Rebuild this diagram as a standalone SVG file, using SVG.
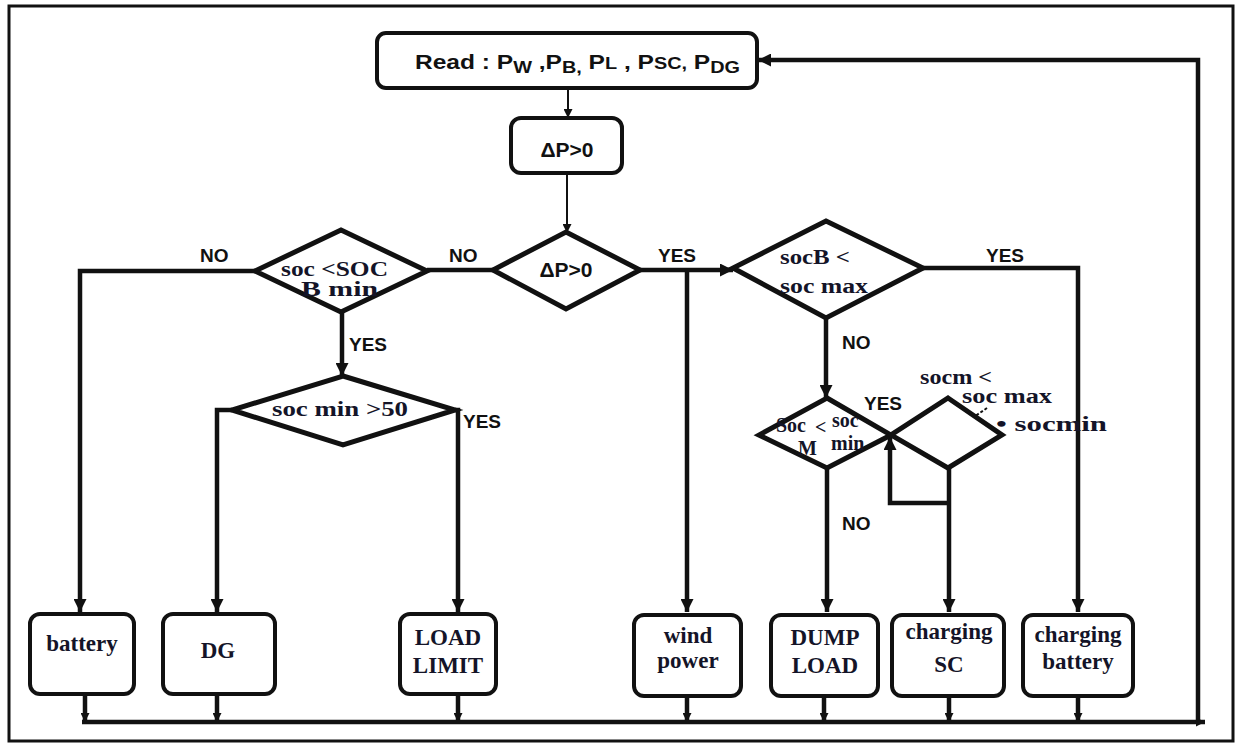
<svg xmlns="http://www.w3.org/2000/svg" width="1239" height="748" viewBox="0 0 1239 748">
<style>
.frame{fill:none;stroke:#111;stroke-width:3}
.box{fill:#fff;stroke:#111;stroke-width:4}
.dia{fill:#fff;stroke:#111;stroke-width:5;stroke-linejoin:miter}
.thin{fill:none;stroke:#111;stroke-width:2}
.con{fill:none;stroke:#111;stroke-width:4.5}
.lbl{font-family:"Liberation Sans",Arial,sans-serif;font-weight:bold;font-size:19px;fill:#111}
.bt{font-family:"Liberation Serif","Times New Roman",serif;font-weight:bold;font-size:23px;fill:#141428;text-anchor:middle}
.dt{font-family:"Liberation Serif","Times New Roman",serif;font-weight:bold;font-size:20px;fill:#141428}
.st{font-family:"Liberation Sans",Arial,sans-serif;font-weight:bold;font-size:21px;fill:#111}
</style>
<defs>
<marker id="ah" viewBox="0 0 12 12" refX="12" refY="6" markerWidth="13" markerHeight="13" markerUnits="userSpaceOnUse" orient="auto">
<path d="M0,0 L12,6 L0,12 z" fill="#111"/>
</marker>
<marker id="ahs" viewBox="0 0 10 10" refX="10" refY="5" markerWidth="9" markerHeight="9" markerUnits="userSpaceOnUse" orient="auto">
<path d="M0,0 L10,5 L0,10 z" fill="#111"/>
</marker>
<marker id="aht" viewBox="0 0 10 10" refX="10" refY="5" markerWidth="8" markerHeight="8" markerUnits="userSpaceOnUse" orient="auto">
<path d="M0,1 L10,5 L0,9" fill="none" stroke="#111" stroke-width="1.5"/>
</marker>
</defs>
<rect width="1239" height="748" fill="#fff"/>
<rect class="frame" x="9" y="6" width="1224" height="735"/>

<g id="connectors">
<path class="thin" d="M568,88 V118" marker-end="url(#ahs)"/>
<path class="thin" d="M567,173 V233" marker-end="url(#ahs)"/>
<path class="con" d="M493,270 H427"/>
<path class="con" d="M255,271 H80 V612" marker-end="url(#ah)"/>
<path class="con" d="M342,312 V376" marker-end="url(#ah)"/>
<path class="con" d="M232,410 H217 V612" marker-end="url(#ah)"/>
<path class="con" d="M455,410 H458 V612" marker-end="url(#ah)"/>
<path class="con" d="M640,270 H733" marker-end="url(#ah)"/>
<path class="con" d="M687,270 V612" marker-end="url(#ah)"/>
<path class="con" d="M923,268 H1078 V612" marker-end="url(#ah)"/>
<path class="con" d="M826,318 V398" marker-end="url(#ah)"/>
<path class="con" d="M827,468 V612" marker-end="url(#ah)"/>
<path class="con" d="M949,468 V612" marker-end="url(#ah)"/>
<path class="con" d="M949,503 H890 V437" marker-end="url(#ah)"/>
<path class="thin" d="M987,408 L955,430" stroke-width="1.2" stroke-dasharray="3,2" marker-end="url(#aht)"/>
<path class="con" d="M85,695 V722" marker-end="url(#ahs)"/>
<path class="con" d="M217,695 V722" marker-end="url(#ahs)"/>
<path class="con" d="M458,695 V722" marker-end="url(#ahs)"/>
<path class="con" d="M687,697 V722" marker-end="url(#ahs)"/>
<path class="con" d="M824,697 V722" marker-end="url(#ahs)"/>
<path class="con" d="M949,697 V722" marker-end="url(#ahs)"/>
<path class="con" d="M1078,697 V722" marker-end="url(#ahs)"/>
<path class="con" d="M82,722 H1205" marker-end="url(#ahs)"/>
<path class="con" d="M1198,722 V60 H758" marker-end="url(#ah)"/>
<text class="lbl" x="200" y="262">NO</text>
<text class="lbl" x="449" y="262">NO</text>
<text class="lbl" x="349" y="351">YES</text>
<text class="lbl" x="463" y="428">YES</text>
<text class="lbl" x="658" y="262">YES</text>
<text class="lbl" x="986" y="262">YES</text>
<text class="lbl" x="842" y="349">NO</text>
<text class="lbl" x="864" y="410">YES</text>
<text class="lbl" x="842" y="530">NO</text>
</g>

<g id="read">
<rect class="box" x="377" y="33" width="380" height="55" rx="9" stroke-width="3"/>
<text class="st" x="415" y="69" font-size="22" textLength="325" lengthAdjust="spacingAndGlyphs">Read : P<tspan font-size="17" dy="4">W</tspan><tspan dy="-4"> ,P</tspan><tspan font-size="17" dy="4">B,</tspan><tspan dy="-4">  P</tspan><tspan font-size="17">L</tspan><tspan> , P</tspan><tspan font-size="17">SC,</tspan><tspan> P</tspan><tspan font-size="17" dy="4">DG</tspan></text>
</g>

<g id="dp_box">
<rect class="box" x="511" y="118" width="111" height="55" rx="10" stroke-width="3"/>
<text class="st" x="567" y="157" text-anchor="middle" font-size="17" font-weight="normal">ΔP&gt;0</text>
</g>

<g id="d_dp">
<polygon class="dia" points="566,232 640,270 566,309 493,270"/>
<text class="st" x="566" y="277" text-anchor="middle" font-size="17" font-weight="normal">ΔP&gt;0</text>
</g>

<g id="d_socb_min">
<polygon class="dia" points="341,230 427,271 341,312 255,271"/>
<text class="dt" x="281" y="276" font-size="19" textLength="107" lengthAdjust="spacingAndGlyphs">soc  &lt;SOC</text>
<text class="dt" x="301" y="296" font-size="19" textLength="77" lengthAdjust="spacingAndGlyphs">B min</text>
</g>

<g id="d_socmin50">
<polygon class="dia" points="343,376 455,410 343,445 232,410"/>
<text class="dt" x="272" y="416" font-size="21" textLength="136" lengthAdjust="spacingAndGlyphs">soc  min &gt;50</text>
</g>

<g id="d_socb_max">
<polygon class="dia" points="826,221 923,268 826,318 733,268"/>
<text class="dt" x="780" y="264" textLength="70" lengthAdjust="spacingAndGlyphs">socB &lt;</text>
<text class="dt" x="780" y="293" textLength="88" lengthAdjust="spacingAndGlyphs">soc max</text>
</g>

<g id="d_socm_min">
<polygon class="dia" points="827,398 891,435 827,468 759,435"/>
<text class="dt" x="776" y="432" font-size="12">Soc</text>
<text class="dt" x="798" y="455" font-size="12">M</text>
<text class="dt" x="815" y="434" font-size="14">&lt;</text>
<text class="dt" x="832" y="427" font-size="16">soc</text>
<text class="dt" x="831" y="450" font-size="16">min</text>
</g>

<g id="d_socm_range">
<polygon class="dia" points="948,398 1002,435 948,468 891,435"/>
<text class="dt" x="920" y="384" textLength="72" lengthAdjust="spacingAndGlyphs">socm &lt;</text>
<text class="dt" x="962" y="403" textLength="90" lengthAdjust="spacingAndGlyphs">soc max</text>
<text class="dt" x="996" y="431" textLength="111" lengthAdjust="spacingAndGlyphs">• socmin</text>
</g>

<g id="n_battery">
<rect class="box" x="30" y="614" width="104" height="80" rx="10"/>
<text class="bt" x="82" y="651">battery</text>
</g>
<g id="n_dg">
<rect class="box" x="163" y="614" width="112" height="80" rx="10"/>
<text class="bt" x="218" y="658">DG</text>
</g>
<g id="n_loadlimit">
<rect class="box" x="400" y="614" width="96" height="80" rx="10"/>
<text class="bt" x="448" y="645">LOAD</text>
<text class="bt" x="448" y="673">LIMIT</text>
</g>
<g id="n_wind">
<rect class="box" x="634" y="615" width="107" height="81" rx="10"/>
<text class="bt" x="688" y="643">wind</text>
<text class="bt" x="688" y="668">power</text>
</g>
<g id="n_dump">
<rect class="box" x="771" y="615" width="107" height="81" rx="10"/>
<text class="bt" x="825" y="645">DUMP</text>
<text class="bt" x="825" y="673">LOAD</text>
</g>
<g id="n_chsc">
<rect class="box" x="892" y="615" width="112" height="81" rx="10"/>
<text class="bt" x="949" y="639">charging</text>
<text class="bt" x="949" y="672">SC</text>
</g>
<g id="n_chbat">
<rect class="box" x="1023" y="615" width="110" height="81" rx="10"/>
<text class="bt" x="1078" y="642">charging</text>
<text class="bt" x="1078" y="669">battery</text>
</g>
</svg>
